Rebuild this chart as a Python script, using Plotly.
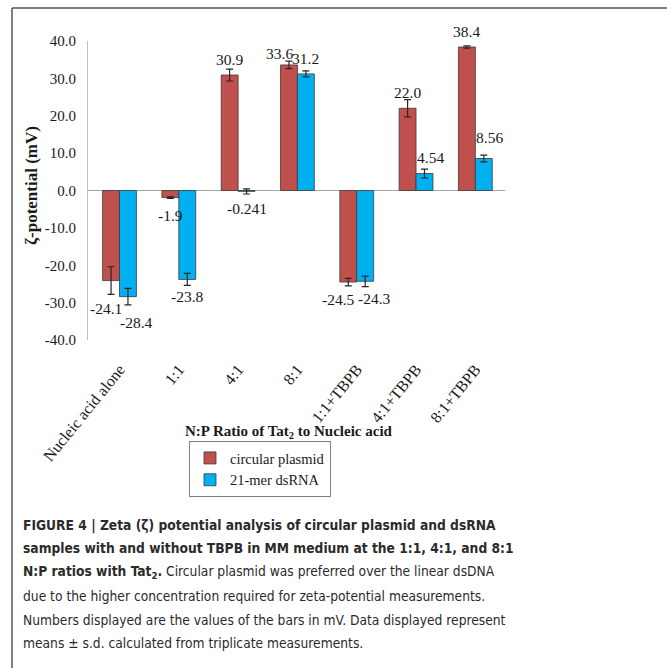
import plotly.graph_objects as go

# ---------------- data ----------------
categories = ["Nucleic acid alone", "1:1", "4:1", "8:1", "1:1+TBPB", "4:1+TBPB", "8:1+TBPB"]
series_names = ["circular plasmid", "21-mer dsRNA"]
plasmid_values = [-24.1, -1.9, 30.9, 33.6, -24.5, 22.0, 38.4]
plasmid_sd = [3.7, 0.2, 1.6, 1.0, 1.0, 2.3, 0.3]
plasmid_labels = ["-24.1", "-1.9", "30.9", "33.6", "-24.5", "22.0", "38.4"]
dsrna_values = [-28.4, -23.8, -0.241, 31.2, -24.3, 4.54, 8.56]
dsrna_sd = [2.2, 1.6, 0.7, 0.8, 1.4, 1.2, 0.9]
dsrna_labels = ["-28.4", "-23.8", "-0.241", "31.2", "-24.3", "4.54", "8.56"]
y_ticks = [-40, -30, -20, -10, 0, 10, 20, 30, 40]
y_tick_labels = ["-40.0", "-30.0", "-20.0", "-10.0", "0.0", "10.0", "20.0", "30.0", "40.0"]
y_title = "<b>ζ-potential (mV)</b>"
x_title = "<b>N:P Ratio of Tat<sub>2</sub> to Nucleic acid</b>"

caption_lines = [
    "<b>FIGURE 4 | Zeta (ζ) potential analysis of circular plasmid and dsRNA</b>",
    "<b>samples with and without TBPB in MM medium at the 1:1, 4:1, and 8:1</b>",
    "<b>N:P ratios with Tat<sub>2</sub>.</b> Circular plasmid was preferred over the linear dsDNA",
    "due to the higher concentration required for zeta-potential measurements.",
    "Numbers displayed are the values of the bars in mV. Data displayed represent",
    "means ± s.d. calculated from triplicate measurements.",
]

# ---------------- style ----------------
W, H = 667, 668
ML, MR, MT, MB = 88, 162, 41, 328
PW, PH = W - ML - MR, H - MT - MB
SERIF = "Liberation Serif, Times New Roman, serif"
SANS = "Liberation Sans Narrow, Arial Narrow, DejaVu Sans Condensed, sans-serif"
TXT = "#1a1a1a"
RED, BLUE = "#C0504D", "#00B0F0"
BAR_HALF = 8.5
LABEL_GAP = 17
# (dx, dy) nudges of value labels in px
plasmid_nudge = [(-5, 11), (0, 1), (0, -1), (-9.5, -6), (-9.5, 0), (0, -1), (0, -2)]
dsrna_nudge = [(8.5, 9), (0, 0), (0, 0), (0, -2), (9.5, 0), (6, -1), (5.5, 4)]
caption_y = [525, 548, 572, 596, 620, 643]


def px_x(px):
    return (px - ML) / PW


def px_y(py):
    return (MT + PH - py) / PH


fig = go.Figure()
for name, vals, sd, color in [
    (series_names[0], plasmid_values, plasmid_sd, RED),
    (series_names[1], dsrna_values, dsrna_sd, BLUE),
]:
    fig.add_trace(go.Bar(
        x=categories, y=vals, name=name,
        marker=dict(color=color, line=dict(color="#3a3a3a", width=0.8)),
        error_y=dict(type="data", array=sd, visible=True, color="#262626",
                     thickness=1.2, width=3.5),
    ))

annotations = []
for vals, labels, nudge, side in [
    (plasmid_values, plasmid_labels, plasmid_nudge, -1),
    (dsrna_values, dsrna_labels, dsrna_nudge, 1),
]:
    for cat, v, lab, (dx, dy) in zip(categories, vals, labels, nudge):
        sgn = 1 if v >= 0 else -1
        annotations.append(dict(
            x=cat, y=v, xref="x", yref="y", text=lab, showarrow=False,
            xanchor="center", yanchor="middle",
            xshift=side * BAR_HALF + dx, yshift=sgn * (LABEL_GAP + dy),
            font=dict(family=SERIF, size=15.5, color=TXT),
        ))

# axis titles
annotations.append(dict(
    x=px_x(289), y=px_y(432), xref="paper", yref="paper", text=x_title,
    showarrow=False, xanchor="center", yanchor="middle",
    font=dict(family=SERIF, size=15, color=TXT),
))
annotations.append(dict(
    x=px_x(31), y=px_y(185), xref="paper", yref="paper", text=y_title,
    showarrow=False, xanchor="center", yanchor="middle", textangle=-90,
    font=dict(family=SERIF, size=17, color=TXT),
))

# caption
for line, yc in zip(caption_lines, caption_y):
    annotations.append(dict(
        x=px_x(21), y=px_y(yc), xref="paper", yref="paper", text=line,
        showarrow=False, xanchor="left", yanchor="middle", align="left",
        font=dict(family=SANS, size=13.7, color="#2b2b2b"),
    ))

shapes = [
    dict(type="line", xref="paper", yref="paper", x0=px_x(12), x1=px_x(W + 5),
         y0=px_y(8), y1=px_y(8), line=dict(color="#555555", width=1.5)),
    dict(type="line", xref="paper", yref="paper", x0=px_x(12), x1=px_x(12),
         y0=px_y(8), y1=px_y(H + 5), line=dict(color="#555555", width=1.5)),
]

fig.update_layout(
    width=W, height=H,
    margin=dict(l=ML, r=MR, t=MT, b=MB, autoexpand=False),
    paper_bgcolor="white", plot_bgcolor="white",
    barmode="group", bargap=0.43, bargroupgap=0,
    font=dict(family=SERIF, size=15, color=TXT),
    xaxis=dict(
        type="category", tickangle=-51, showline=False, showgrid=False,
        ticks="", ticklabelstandoff=16, automargin=False,
        tickfont=dict(family=SERIF, size=16, color=TXT),
    ),
    yaxis=dict(
        range=[-40, 40], tickvals=y_ticks, ticktext=y_tick_labels,
        showgrid=False, showline=True, linecolor="#BFBFBF", linewidth=1,
        zeroline=True, zerolinecolor="#A6A6A6", zerolinewidth=1,
        ticks="", ticklabelstandoff=8, automargin=False,
        tickfont=dict(family=SERIF, size=15, color=TXT),
    ),
    legend=dict(
        x=px_x(189), y=px_y(441), xanchor="left", yanchor="top",
        orientation="v", bgcolor="white", bordercolor="#7f7f7f", borderwidth=1,
        font=dict(family=SERIF, size=14.5, color=TXT),
        itemwidth=30, tracegroupgap=0,
    ),
    annotations=annotations,
    shapes=shapes,
)

fig.write_html("out.html", config={"displayModeBar": False},
               post_script="document.body.style.margin='0px';")
